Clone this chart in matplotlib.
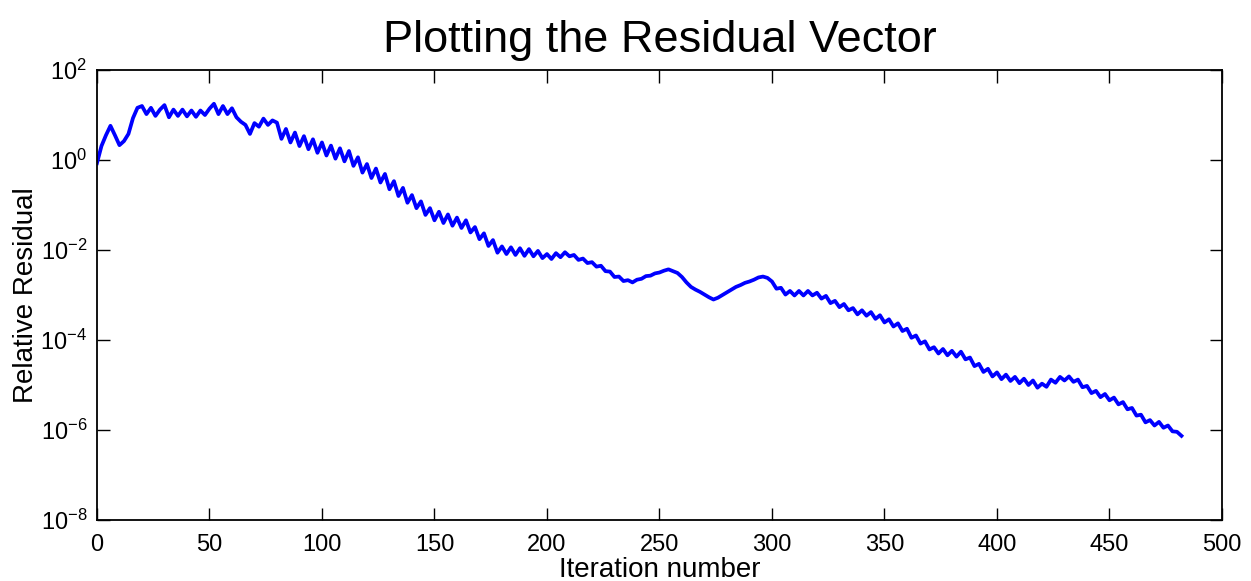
import numpy as np
import matplotlib.pyplot as plt

plt.rcParams['font.family'] = ['Liberation Sans', 'DejaVu Sans']
plt.rcParams['mathtext.fontset'] = 'custom'
plt.rcParams['mathtext.rm'] = 'Liberation Sans'
plt.rcParams['mathtext.it'] = 'Liberation Sans:italic'

iters = list(range(0, 483, 2))

# log10 of the relative residual
log_res = [
    -0.07, 0.31, 0.55, 0.76, 0.55, 0.33, 0.42, 0.58, 0.93, 1.16,
    1.20, 1.02, 1.16, 0.98, 1.12, 1.22, 0.95, 1.12, 0.98, 1.12,
    0.97, 1.10, 0.96, 1.10, 1.00, 1.14, 1.25, 1.02, 1.20, 1.02,
    1.15, 0.95, 0.85, 0.78, 0.58, 0.82, 0.74, 0.92, 0.78, 0.88,
    0.83, 0.47, 0.69, 0.39, 0.61, 0.31, 0.53, 0.24, 0.46, 0.16,
    0.39, 0.10, 0.32, 0.03, 0.26, -0.03, 0.20, -0.13, 0.06, -0.28,
    -0.09, -0.40, -0.19, -0.50, -0.31, -0.65, -0.47, -0.80, -0.62, -0.95,
    -0.78, -1.07, -0.92, -1.22, -1.07, -1.34, -1.15, -1.40, -1.21, -1.46,
    -1.28, -1.51, -1.34, -1.61, -1.49, -1.76, -1.63, -1.91, -1.78, -2.06,
    -1.92, -2.09, -1.94, -2.11, -1.96, -2.13, -1.98, -2.14, -2.02, -2.18,
    -2.09, -2.20, -2.07, -2.16, -2.05, -2.14, -2.11, -2.22, -2.19, -2.29,
    -2.27, -2.37, -2.35, -2.47, -2.48, -2.60, -2.59, -2.69, -2.67, -2.72,
    -2.66, -2.64, -2.58, -2.57, -2.52, -2.50, -2.46, -2.43, -2.47, -2.51,
    -2.60, -2.72, -2.82, -2.88, -2.93, -2.99, -3.05, -3.10, -3.06, -3.00,
    -2.94, -2.88, -2.82, -2.78, -2.73, -2.70, -2.66, -2.61, -2.59, -2.62,
    -2.70, -2.86, -2.84, -2.99, -2.91, -3.01, -2.91, -3.01, -2.91, -3.01,
    -2.95, -3.08, -3.02, -3.18, -3.13, -3.27, -3.20, -3.34, -3.29, -3.43,
    -3.34, -3.46, -3.38, -3.53, -3.45, -3.61, -3.54, -3.70, -3.63, -3.80,
    -3.75, -3.95, -3.90, -4.08, -4.03, -4.21, -4.16, -4.30, -4.20, -4.34,
    -4.24, -4.37, -4.26, -4.43, -4.39, -4.58, -4.53, -4.71, -4.64, -4.81,
    -4.72, -4.87, -4.77, -4.91, -4.82, -4.96, -4.86, -5.00, -4.90, -5.06,
    -4.97, -5.04, -4.88, -4.95, -4.82, -4.90, -4.81, -4.93, -4.88, -5.05,
    -5.02, -5.18, -5.13, -5.27, -5.20, -5.34, -5.28, -5.43, -5.38, -5.54,
    -5.51, -5.68, -5.66, -5.83, -5.78, -5.90, -5.82, -5.95, -5.90, -6.03,
    -6.04, -6.13,
]

residual = 10.0 ** np.array(log_res)

fig = plt.figure(figsize=(12.51, 5.81), dpi=100)
ax = fig.add_axes([0.0775, 0.105, 0.8993, 0.7745])

ax.semilogy(iters, residual, color='#0000ff', lw=2.7)

ax.set_xlim(0, 500)
ax.set_ylim(1e-8, 1e2)
ax.set_xticks(range(0, 501, 50))
ax.set_yticks([1e-8, 1e-6, 1e-4, 1e-2, 1e0, 1e2])
ax.set_yticklabels([r'$10^{-8}$', r'$10^{-6}$', r'$10^{-4}$',
                    r'$10^{-2}$', r'$10^{0}$', r'$10^{2}$'])
ax.minorticks_off()
ax.tick_params(direction='in', length=9, width=1, top=True, right=True,
               labelsize=17)
ax.tick_params(axis='x', pad=10)
ax.tick_params(axis='y', pad=7)

for s in ax.spines.values():
    s.set_linewidth(1.3)

ax.set_title('Plotting the Residual Vector', fontsize=32.5, pad=13)
ax.set_xlabel('Iteration number', fontsize=20, labelpad=1)
ax.set_ylabel('Relative Residual', fontsize=20, labelpad=1)

fig.savefig('out.png', dpi=100)
